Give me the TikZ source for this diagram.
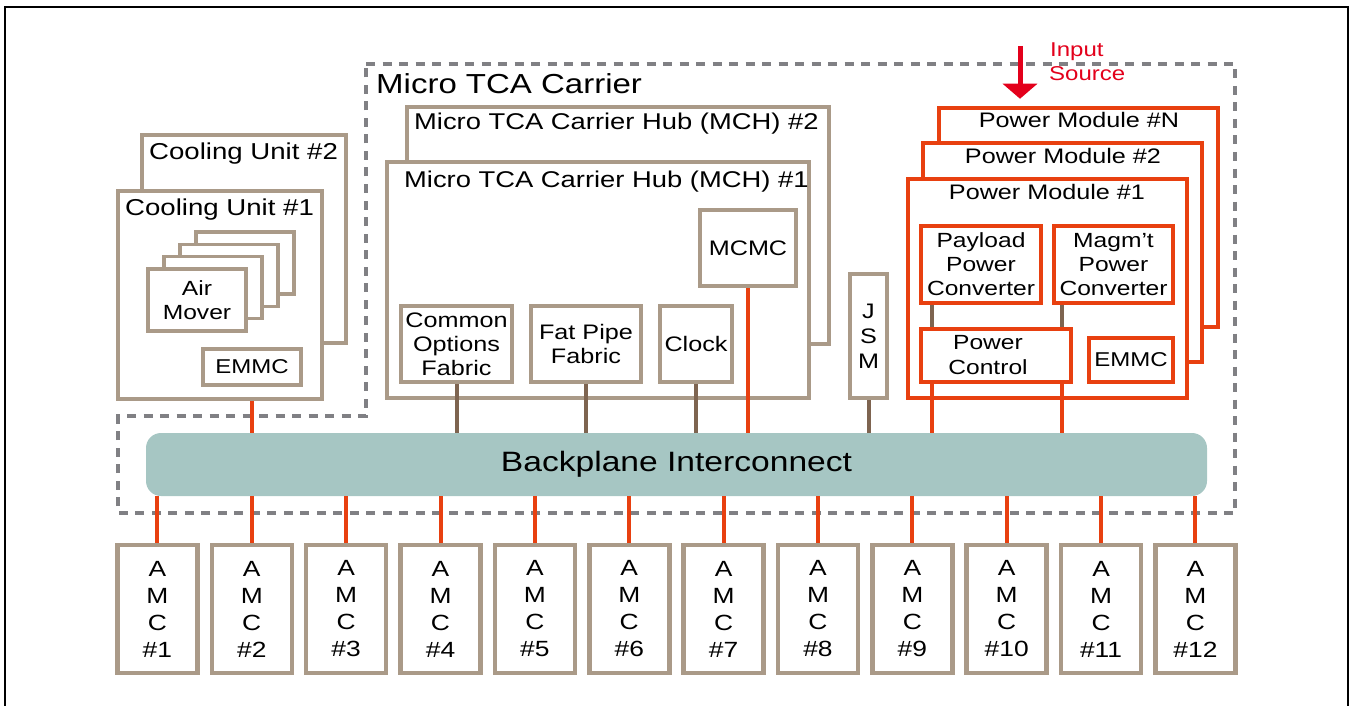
\documentclass[tikz,border=0pt]{standalone}
\usepackage{fontspec}
\setmainfont{Liberation Sans}[FakeStretch=1.2]
\usetikzlibrary{arrows.meta,calc}
\definecolor{tanC}{HTML}{AA9A88}
\definecolor{conbrown}{HTML}{7E6450}
\definecolor{pwr}{HTML}{E84010}
\definecolor{dashgray}{HTML}{808084}
\definecolor{bpteal}{HTML}{A6C6C3}
\definecolor{inred}{HTML}{E3001B}
\newcommand\myfs[2]{\fontsize{#1}{#2}\selectfont}
\begin{document}
\begin{tikzpicture}[x=1pt,y=-1pt,
  tbox/.style={draw=tanC, line width=4.5pt, fill=white, inner sep=0pt, align=center},
  thinbox/.style={draw=tanC, line width=3.5pt, fill=white, inner sep=0pt, align=center},
  pbox/.style={draw=pwr, line width=4.5pt, fill=white, inner sep=0pt, align=center},
  amcbox/.style={tbox, minimum width=80pt, minimum height=128pt, font=\myfs{22}{27}},
  redcon/.style={draw=pwr, line width=4pt},
  browncon/.style={draw=conbrown, line width=4pt},
  lbl/.style={inner sep=0pt},
  carrier/.style={draw=dashgray, line width=4pt, dash pattern=on 9pt off 7.5pt}
]
\useasboundingbox (0,0) rectangle (1352,706);
% outer frame
\draw[black, line width=2pt] (5,706) -- (5,7) -- (1348,7) -- (1348,706);
% carrier dashed outline
\draw[carrier] (366,64) -- (1235,64) -- (1235,513) -- (118,513) -- (118,416) -- (366,416) -- cycle;
\node[lbl, anchor=base west, font=\myfs{27.5}{30}] (carrierlbl) at (376,94) {Micro TCA Carrier};

% cooling units
\node[tbox, minimum width=204pt, minimum height=208pt] (cool2) at (244,239) {};
\node[lbl, anchor=base west, font=\myfs{23}{26}] (cool2l) at (149,160) {Cooling Unit \#2};
\node[tbox, minimum width=204pt, minimum height=208pt] (cool1) at (220,295) {};
\node[lbl, anchor=base west, font=\myfs{23}{26}] (cool1l) at (125,215) {Cooling Unit \#1};
\node[thinbox, minimum width=98pt, minimum height=62pt] (air4) at (245,263) {};
\node[thinbox, minimum width=98pt, minimum height=62pt] (air3) at (229,275.4) {};
\node[thinbox, minimum width=98pt, minimum height=62pt] (air2) at (213,287.7) {};
\node[thinbox, minimum width=98pt, minimum height=62pt, font=\myfs{20.5}{24}] (air1) at (197,300) {Air\\Mover};
\node[tbox, minimum width=98pt, minimum height=36pt, font=\myfs{20}{24}] (cemmc) at (252,367) {EMMC};

% MCH
\node[tbox, minimum width=422pt, minimum height=237pt] (mch2) at (618,225.5) {};
\node[lbl, anchor=base west, font=\myfs{22.8}{26}] (mch2l) at (414,130) {Micro TCA Carrier Hub (MCH) \#2};
\node[tbox, minimum width=422pt, minimum height=236pt] (mch1) at (598,280) {};
\node[lbl, anchor=base west, font=\myfs{22.8}{26}] (mch1l) at (404,187) {Micro TCA Carrier Hub (MCH) \#1};
\node[tbox, minimum width=96pt, minimum height=76pt, font=\myfs{21}{24}] (mcmc) at (748,248) {MCMC};
\node[tbox, minimum width=111pt, minimum height=76pt, font=\myfs{21}{24}] (cof) at (456.5,344) {Common\\Options\\Fabric};
\node[tbox, minimum width=110pt, minimum height=76pt, font=\myfs{21}{24}] (fpf) at (586,344) {Fat Pipe\\Fabric};
\node[tbox, minimum width=72pt, minimum height=76pt, font=\myfs{21}{24}] (clk) at (696,344) {Clock};

% JSM
\node[tbox, minimum width=37pt, minimum height=124pt, font=\myfs{21}{25}] (jsm) at (868.5,336) {J\\S\\M};

% power modules
\node[pbox, minimum width=279pt, minimum height=219pt] (pmN) at (1078.5,217.5) {};
\node[lbl, anchor=base, font=\myfs{21}{24}] (pmNl) at (1079,128) {Power Module \#N};
\node[pbox, minimum width=279pt, minimum height=219pt] (pm2) at (1062.5,252.5) {};
\node[lbl, anchor=base, font=\myfs{21}{24}] (pm2l) at (1063,164) {Power Module \#2};
\node[pbox, minimum width=279pt, minimum height=219pt] (pm1) at (1047.5,288.5) {};
\node[lbl, anchor=base, font=\myfs{21}{24}] (pm1l) at (1047,199) {Power Module \#1};
\node[pbox, minimum width=120pt, minimum height=77pt, font=\myfs{20.5}{24}] (ppc) at (981,264.5) {Payload\\Power\\Converter};
\node[pbox, minimum width=119pt, minimum height=77pt, font=\myfs{20.5}{24}] (mpc) at (1113.5,264.5) {Magm’t\\Power\\Converter};
\node[pbox, minimum width=150pt, minimum height=53pt, font=\myfs{20.5}{25}] (pc) at (996,355.5) {Power\hspace*{16pt}\\Control\hspace*{16pt}};
\node[pbox, minimum width=84pt, minimum height=44pt, font=\myfs{20}{24}] (pemmc) at (1131,360) {EMMC};

% input source
\coordinate (insrc) at (1020,46);
\draw[inred, line width=5pt, -{Triangle[width=34pt,length=15pt]}, shorten >=7pt] (insrc) -- (insrc |- pmN.north);
\node[lbl, anchor=base west, text=inred, font=\myfs{20}{24}] (inl1) at (1050,57) {Input};
\node[lbl, anchor=base west, text=inred, font=\myfs{20}{24}] (inl2) at (1049,81) {Source};

% backplane
\node[fill=bpteal, rounded corners=15pt, minimum width=1061pt, minimum height=63pt, inner sep=0pt, font=\myfs{28}{30}] (bp) at (676.5,464.5) {Backplane Interconnect};

% connectors into backplane
\draw[redcon] (cemmc |- cool1.south) -- (cemmc |- bp.north);
\draw[browncon] (cof.south) -- (cof |- bp.north);
\draw[browncon] (fpf.south) -- (fpf |- bp.north);
\draw[browncon] (clk.south) -- (clk |- bp.north);
\draw[redcon] (mcmc.south) -- (mcmc |- bp.north);
\draw[browncon] (jsm.south) -- (jsm |- bp.north);
\coordinate (cA) at (932,0);
\coordinate (cB) at (1062,0);
\draw[browncon] (cA |- ppc.south) -- (cA |- pc.north);
\draw[browncon] (cB |- mpc.south) -- (cB |- pc.north);
\draw[redcon] (cA |- pc.south) -- (cA |- bp.north);
\draw[redcon] (cB |- pc.south) -- (cB |- bp.north);

% AMCs
\foreach \i in {1,...,12} {
  \pgfmathsetmacro\cx{157.4+94.37*(\i-1)}
  \node[amcbox] (amc\i) at (\cx,609) {A\\M\\C\\\#\i};
  \draw[redcon] (amc\i.north |- bp.south) -- (amc\i.north);
}
\end{tikzpicture}
\end{document}
